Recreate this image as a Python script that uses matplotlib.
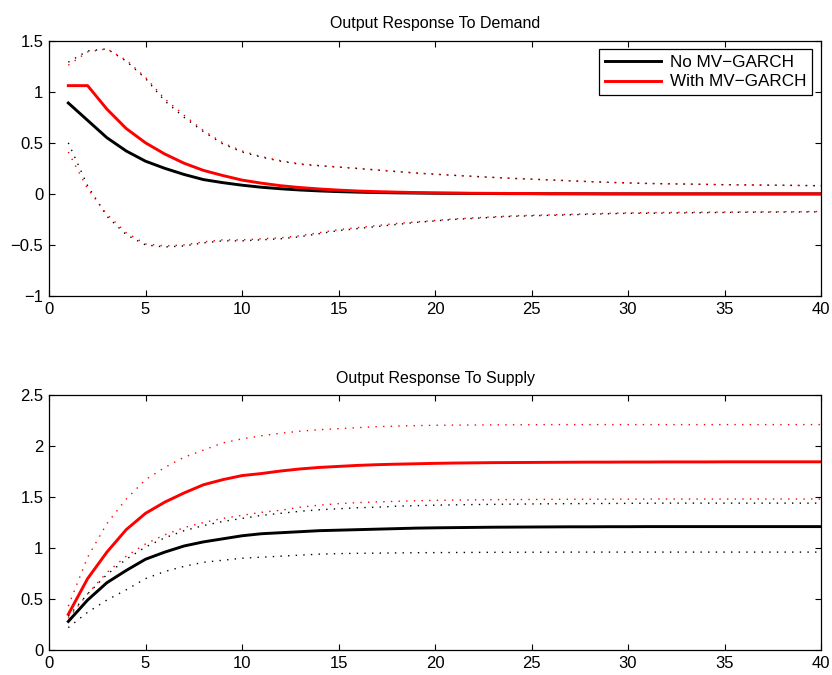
import numpy as np
import matplotlib
matplotlib.use('Agg')
import matplotlib.pyplot as plt

horizon = np.arange(1, 41)

# demand shock, no MV-GARCH
dem_no = [0.89, 0.72, 0.55, 0.42, 0.32, 0.25, 0.19, 0.14, 0.11, 0.085,
          0.065, 0.05, 0.038, 0.029, 0.022, 0.017, 0.013, 0.010, 0.008, 0.006,
          0.005, 0.004, 0.003, 0.002, 0.002, 0.001, 0.001, 0.001, 0.0, 0.0,
          0.0, 0.0, 0.0, 0.0, 0.0, 0.0, 0.0, 0.0, 0.0, 0.0]
dem_no_hi = [1.29, 1.40, 1.42, 1.30, 1.13, 0.91, 0.75, 0.61, 0.49, 0.41,
             0.36, 0.32, 0.29, 0.275, 0.262, 0.248, 0.233, 0.218, 0.204, 0.192,
             0.181, 0.171, 0.161, 0.152, 0.144, 0.136, 0.128, 0.12, 0.113, 0.107,
             0.102, 0.099, 0.096, 0.093, 0.09, 0.088, 0.086, 0.084, 0.082, 0.08]
dem_no_lo = [0.50, 0.08, -0.22, -0.40, -0.50, -0.52, -0.51, -0.48, -0.46, -0.46,
             -0.45, -0.44, -0.42, -0.39, -0.36, -0.34, -0.32, -0.30, -0.28, -0.265,
             -0.25, -0.24, -0.23, -0.22, -0.215, -0.21, -0.205, -0.20, -0.195, -0.19,
             -0.19, -0.188, -0.186, -0.184, -0.182, -0.18, -0.179, -0.178, -0.177, -0.176]

# demand shock, with MV-GARCH
dem_mv = [1.06, 1.06, 0.83, 0.64, 0.50, 0.39, 0.30, 0.23, 0.18, 0.135,
          0.105, 0.08, 0.062, 0.048, 0.037, 0.028, 0.022, 0.017, 0.013, 0.010,
          0.008, 0.006, 0.005, 0.004, 0.003, 0.002, 0.002, 0.001, 0.001, 0.001,
          0.0, 0.0, 0.0, 0.0, 0.0, 0.0, 0.0, 0.0, 0.0, 0.0]
dem_mv_hi = [1.26, 1.39, 1.42, 1.31, 1.14, 0.93, 0.77, 0.62, 0.50, 0.42,
             0.365, 0.325, 0.295, 0.278, 0.264, 0.25, 0.235, 0.22, 0.205, 0.193,
             0.182, 0.172, 0.162, 0.152, 0.144, 0.136, 0.128, 0.12, 0.113, 0.107,
             0.102, 0.099, 0.096, 0.093, 0.09, 0.088, 0.086, 0.084, 0.082, 0.08]
dem_mv_lo = [0.41, 0.05, -0.20, -0.38, -0.49, -0.51, -0.50, -0.47, -0.45, -0.45,
             -0.44, -0.43, -0.41, -0.38, -0.35, -0.33, -0.31, -0.29, -0.275, -0.26,
             -0.245, -0.235, -0.225, -0.215, -0.21, -0.205, -0.20, -0.195, -0.19, -0.186,
             -0.184, -0.182, -0.18, -0.179, -0.178, -0.177, -0.176, -0.175, -0.174, -0.173]

# supply shock, no MV-GARCH
sup_no = [0.28, 0.49, 0.66, 0.78, 0.89, 0.96, 1.02, 1.06, 1.09, 1.12,
          1.14, 1.15, 1.16, 1.17, 1.175, 1.18, 1.185, 1.19, 1.195, 1.198,
          1.20, 1.202, 1.204, 1.205, 1.206, 1.207, 1.208, 1.208, 1.209, 1.209,
          1.21, 1.21, 1.21, 1.21, 1.21, 1.21, 1.21, 1.21, 1.21, 1.21]
sup_no_hi = [0.33, 0.55, 0.74, 0.89, 1.01, 1.10, 1.17, 1.22, 1.26, 1.29,
             1.32, 1.34, 1.36, 1.375, 1.385, 1.395, 1.40, 1.41, 1.415, 1.42,
             1.423, 1.426, 1.428, 1.43, 1.432, 1.434, 1.435, 1.436, 1.437, 1.438,
             1.439, 1.44, 1.44, 1.44, 1.44, 1.44, 1.44, 1.44, 1.44, 1.44]
sup_no_lo = [0.22, 0.37, 0.49, 0.59, 0.70, 0.77, 0.82, 0.86, 0.88, 0.90,
             0.91, 0.92, 0.93, 0.94, 0.945, 0.948, 0.95, 0.952, 0.954, 0.955,
             0.956, 0.957, 0.958, 0.958, 0.959, 0.959, 0.96, 0.96, 0.96, 0.96,
             0.96, 0.96, 0.96, 0.96, 0.96, 0.96, 0.96, 0.96, 0.96, 0.96]

# supply shock, with MV-GARCH
sup_mv = [0.35, 0.70, 0.96, 1.18, 1.34, 1.45, 1.54, 1.62, 1.67, 1.71,
          1.73, 1.755, 1.775, 1.79, 1.80, 1.81, 1.817, 1.822, 1.826, 1.83,
          1.833, 1.835, 1.837, 1.838, 1.839, 1.84, 1.841, 1.842, 1.842, 1.843,
          1.843, 1.844, 1.844, 1.844, 1.845, 1.845, 1.845, 1.845, 1.845, 1.845]
sup_mv_hi = [0.43, 0.91, 1.24, 1.48, 1.67, 1.79, 1.89, 1.96, 2.03, 2.07,
             2.10, 2.125, 2.145, 2.16, 2.17, 2.18, 2.19, 2.195, 2.20, 2.203,
             2.205, 2.206, 2.207, 2.208, 2.209, 2.21, 2.21, 2.21, 2.21, 2.21,
             2.21, 2.21, 2.21, 2.21, 2.21, 2.21, 2.21, 2.21, 2.21, 2.21]
sup_mv_lo = [0.31, 0.55, 0.76, 0.92, 1.04, 1.13, 1.20, 1.25, 1.29, 1.32,
             1.35, 1.37, 1.40, 1.42, 1.435, 1.445, 1.452, 1.458, 1.463, 1.467,
             1.47, 1.472, 1.474, 1.475, 1.476, 1.477, 1.478, 1.478, 1.479, 1.479,
             1.48, 1.48, 1.48, 1.48, 1.48, 1.48, 1.48, 1.48, 1.48, 1.48]

titles = ['Output Response To Demand', 'Output Response To Supply']
legend_labels = ['No MV\u2212GARCH', 'With MV\u2212GARCH']

plt.rcParams['font.family'] = ['Liberation Sans', 'DejaVu Sans']
plt.rcParams['font.size'] = 11.5
plt.rcParams['axes.linewidth'] = 0.9

fig = plt.figure(figsize=(8.32, 6.75), dpi=100)
ax1 = fig.add_axes([0.0589, 0.5615, 0.9279, 0.3782])
ax2 = fig.add_axes([0.0589, 0.0370, 0.9279, 0.3778])

dot = (0, (1, 4.5))
_lw = 2.1


def draw(ax, no, no_hi, no_lo, mv, mv_hi, mv_lo):
    ax.plot(horizon, no, color='black', linewidth=_lw, label=legend_labels[0])
    ax.plot(horizon, mv, color='red', linewidth=_lw, label=legend_labels[1])
    ax.plot(horizon, no_hi, color='black', linewidth=1, linestyle=dot)
    ax.plot(horizon, no_lo, color='black', linewidth=1, linestyle=dot)
    ax.plot(horizon, mv_hi, color='red', linewidth=1, linestyle=dot)
    ax.plot(horizon, mv_lo, color='red', linewidth=1, linestyle=dot)
    ax.set_xlim(0, 40)
    ax.set_xticks(np.arange(0, 41, 5))
    ax.tick_params(direction='in', top=True, right=True, length=4, width=0.8,
                   labelsize=12, pad=4)


draw(ax1, dem_no, dem_no_hi, dem_no_lo, dem_mv, dem_mv_hi, dem_mv_lo)
ax1.set_ylim(-1, 1.5)
ax1.set_yticks(np.arange(-1, 1.51, 0.5))
ax1.set_yticklabels(['\u22121', '\u22120.5', '0', '0.5', '1', '1.5'])
ax1.set_title(titles[0], fontsize=11.5, pad=9)
leg = ax1.legend(loc='upper right', fontsize=12.3, fancybox=False, framealpha=1,
                 edgecolor='black', borderaxespad=0.5, handlelength=3.3,
                 handletextpad=0.5, borderpad=0.35, labelspacing=0.25)
leg.get_frame().set_linewidth(0.9)

draw(ax2, sup_no, sup_no_hi, sup_no_lo, sup_mv, sup_mv_hi, sup_mv_lo)
ax2.set_ylim(0, 2.5)
ax2.set_yticks(np.arange(0, 2.51, 0.5))
ax2.set_yticklabels(['0', '0.5', '1', '1.5', '2', '2.5'])
ax2.set_title(titles[1], fontsize=11.5, pad=9)

fig.savefig('out.png', dpi=100)
